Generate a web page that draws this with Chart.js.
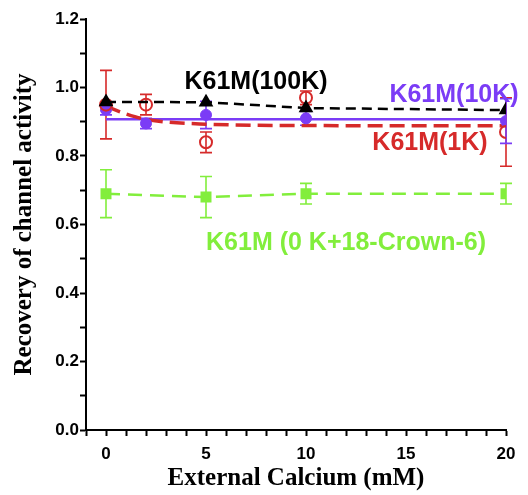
<!DOCTYPE html>
<html>
<head>
<meta charset="utf-8">
<script src="https://cdn.jsdelivr.net/npm/chart.js@4.4.1/dist/chart.umd.min.js"></script>
<style>
  html, body { margin: 0; padding: 0; background: #fff; }
  #wrap { width: 528px; height: 495px; }
</style>
</head>
<body>
<div id="wrap"><canvas id="c" width="528" height="495"></canvas></div>
<script>
// ---- data ----
const calcium5 = [0, 2, 5, 10, 20];
const calcium4 = [0, 5, 10, 20];

const k1K = [0.95, 0.95, 0.84, 0.97, 0.87];
const k1KErr = [0.10, 0.03, 0.03, 0.02, 0.10];

const k10K = [0.935, 0.895, 0.92, 0.91, 0.902];
const k10KErr = [0.015, 0.015, 0.04, 0.02, 0.065];

const k100K = [0.958, 0.957, 0.94, 0.934];

const kCrown = [0.69, 0.68, 0.69, 0.69];
const kCrownErr = [0.07, 0.06, 0.03, 0.03];

const fit10KX = [0, 20];
const fit10KY = [0.907, 0.907];

const fit1KX = [0, 1, 2, 5, 10, 20];
const fit1KY = [0.945, 0.923, 0.907, 0.893, 0.889, 0.888];

const yTicks = [0.0, 0.2, 0.4, 0.6, 0.8, 1.0, 1.2];
const xTicks = [0, 5, 10, 15, 20];

const labelTexts = ['K61M(100K)', 'K61M(10K)', 'K61M(1K)', 'K61M (0 K+18-Crown-6)'];
const labelX = [7.5, 17.4, 16.2, 12.0];
const labelY = [1.017, 0.978, 0.838, 0.546];

// ---- colours ----
const RED = '#d62a2a';
const PURPLE = '#7b3cf6';
const GREEN = '#82ee3c';
const BLACK = '#000000';
const labelColors = [BLACK, PURPLE, RED, GREEN];

const pts = (xs, ys) => xs.map((x, i) => ({ x: x, y: ys[i] }));

const errorBars = [
  { xs: calcium5, ys: k1K, es: k1KErr, color: RED },
  { xs: calcium5, ys: k10K, es: k10KErr, color: PURPLE },
  { xs: calcium4, ys: kCrown, es: kCrownErr, color: GREEN }
];

const errorBarPlugin = {
  id: 'errorBars',
  beforeDatasetsDraw(chart) {
    const { ctx, scales: { x, y } } = chart;
    ctx.save();
    ctx.lineWidth = 1.6;
    errorBars.forEach(s => {
      ctx.strokeStyle = s.color;
      s.xs.forEach((xv, i) => {
        const px = x.getPixelForValue(xv);
        const top = y.getPixelForValue(s.ys[i] + s.es[i]);
        const bot = y.getPixelForValue(s.ys[i] - s.es[i]);
        ctx.beginPath();
        ctx.moveTo(px, top); ctx.lineTo(px, bot);
        ctx.moveTo(px - 6, top); ctx.lineTo(px + 6, top);
        ctx.moveTo(px - 6, bot); ctx.lineTo(px + 6, bot);
        ctx.stroke();
      });
    });
    ctx.restore();
  }
};

const labelPlugin = {
  id: 'seriesLabels',
  afterDatasetsDraw(chart) {
    const { ctx, scales: { x, y } } = chart;
    ctx.save();
    ctx.font = 'bold 25px "Liberation Sans", Arial, sans-serif';
    ctx.textAlign = 'center';
    ctx.textBaseline = 'middle';
    labelTexts.forEach((t, i) => {
      ctx.fillStyle = labelColors[i];
      ctx.fillText(t, x.getPixelForValue(labelX[i]), y.getPixelForValue(labelY[i]));
    });
    ctx.restore();
  }
};

const tickFont = { family: '"Liberation Sans", Arial, sans-serif', size: 17, weight: 'bold' };
const titleFont = { family: '"Liberation Serif", "Times New Roman", serif', size: 25, weight: 'bold' };

new Chart(document.getElementById('c'), {
  type: 'scatter',
  data: {
    datasets: [
      { label: '1K', data: pts(calcium5, k1K), showLine: false, pointStyle: 'circle', pointRadius: 6,
        pointBorderWidth: 2, borderColor: RED, backgroundColor: 'rgba(255,255,255,0)', order: 1 },
      { label: '100K', data: pts(calcium4, k100K), showLine: true, pointStyle: 'triangle', pointRadius: 6,
        borderColor: BLACK, backgroundColor: BLACK, pointBackgroundColor: BLACK, borderWidth: 2.5,
        borderDash: [10, 6], order: 0 },
      { label: '10K', data: pts(calcium5, k10K), showLine: false, pointStyle: 'circle', pointRadius: 5.5,
        borderColor: PURPLE, backgroundColor: PURPLE, order: 2 },
      { label: 'crown', data: pts(calcium4, kCrown), showLine: true, pointStyle: 'rect', pointRadius: 6,
        borderColor: GREEN, backgroundColor: GREEN, pointBackgroundColor: GREEN, borderWidth: 2.5,
        borderDash: [14, 8], order: 3 },
      { label: 'fit10K', data: pts(fit10KX, fit10KY), showLine: true, pointRadius: 0,
        borderColor: PURPLE, borderWidth: 2.5, order: 5 },
      { label: 'fit1K', data: pts(fit1KX, fit1KY), showLine: true, pointRadius: 0,
        borderColor: RED, borderWidth: 3.5, borderDash: [15, 7], cubicInterpolationMode: 'monotone', order: 4 }
    ]
  },
  options: {
    responsive: false,
    animation: false,
    devicePixelRatio: 1,
    layout: { padding: { left: 0, right: 22, top: 19, bottom: 0 } },
    plugins: { legend: { display: false }, tooltip: { enabled: false } },
    scales: {
      x: {
        type: 'linear', min: -1, max: 20,
        afterFit(s) { s.height = 65; },
        afterBuildTicks(s) { s.ticks = []; for (let v = -1; v <= 20; v++) s.ticks.push({ value: v }); },
        ticks: {
          autoSkip: false, maxRotation: 0, color: BLACK, font: tickFont, padding: 8,
          callback: v => (xTicks.includes(v) ? String(v) : '')
        },
        grid: { drawOnChartArea: false, drawTicks: true, tickLength: 6, tickWidth: 2, tickColor: BLACK },
        border: { display: true, color: BLACK, width: 2 },
        title: { display: true, text: 'External Calcium (mM)', color: BLACK, font: titleFont, padding: { top: 0, bottom: 1 } }
      },
      y: {
        type: 'linear', min: 0, max: 1.2,
        afterFit(s) { s.width = 86; },
        afterBuildTicks(s) { s.ticks = []; for (let k = 0; k <= 12; k++) s.ticks.push({ value: k / 10 }); },
        ticks: {
          autoSkip: false, color: BLACK, font: tickFont, padding: 1,
          callback: v => {
            const r = Math.round(v * 10) / 10;
            return yTicks.some(t => Math.abs(t - r) < 1e-6) ? r.toFixed(1) : '';
          }
        },
        grid: { drawOnChartArea: false, drawTicks: true, tickLength: 6, tickWidth: 2, tickColor: BLACK },
        border: { display: true, color: BLACK, width: 2 },
        title: { display: true, text: 'Recovery of channel activity', color: BLACK, font: titleFont, padding: { top: 10, bottom: 0 } }
      }
    }
  },
  plugins: [errorBarPlugin, labelPlugin]
});
</script>
</body>
</html>
